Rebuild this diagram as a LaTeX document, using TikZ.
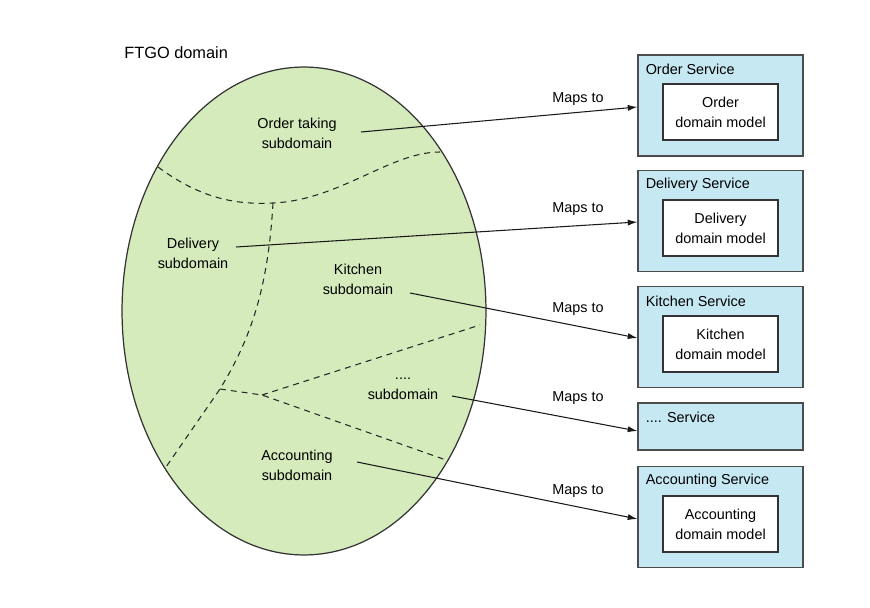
\documentclass[tikz,border=0pt]{standalone}
\usepackage{fontspec}
\setmainfont{Liberation Sans}
\usepackage{tikz}
\usetikzlibrary{calc,arrows.meta,positioning}
\definecolor{domgreen}{HTML}{D5EBBC}
\definecolor{svcblue}{HTML}{C6E8F3}

\begin{document}
\begin{tikzpicture}[x=0.02cm,y=-0.02cm,
    font=\fontsize{8.2}{11.3}\selectfont,
    sub/.style={align=center,inner sep=0pt},
    svcbox/.style={draw=black!70,fill=svcblue,line width=0.7pt,minimum width=3.3cm,minimum height=2.02cm,inner sep=0pt},
    modelbox/.style={draw=black!80,fill=white,line width=0.7pt,minimum width=2.3cm,minimum height=1.12cm,align=center,inner sep=0pt},
    svctitle/.style={anchor=west,inner sep=0pt},
    border/.style={dash pattern=on 3.4pt off 2.8pt,line width=0.6pt,black!85},
    mapsto/.style={-{Latex[length=5.5pt,width=3.5pt]},line width=0.6pt,black!90}]
  \useasboundingbox (0,0) rectangle (870,608);
  % Domain title
  \node[anchor=west,inner sep=0pt,font=\fontsize{9.3}{11}\selectfont] (ftgo) at (124,53) {FTGO domain};
  % The domain itself
  \draw[fill=domgreen,draw=black!80,line width=0.7pt] (304,311) ellipse [x radius=3.64cm, y radius=4.88cm];
  % Subdomain borders (dashed)
  \coordinate (top) at (273,203);
  \coordinate (knee) at (220,389);
  \coordinate (fork) at (262,395);
  \draw[border] (158,167) .. controls (200,198) and (235,205) .. (top) .. controls (340,200) and (390,152) .. (440,152);
  \draw[border] (top) .. controls (268,290) and (250,340) .. (knee) -- (166,467);
  \draw[border] (knee) -- (fork) -- (446,460);
  \draw[border] (fork) -- (480,325);
  % Subdomains
  \node[sub] (osub) at (297,133) {Order taking\\subdomain};
  \node[sub] (dsub) at (193,253) {Delivery\\subdomain};
  \node[sub] (ksub) at (358,279) {Kitchen\\subdomain};
  \node[sub] (xsub) at (403,389) {....\\subdomain};
  \node[sub] (asub) at (297,465) {Accounting\\subdomain};
  % Services
  \node[svcbox] (obox) at (720.5,105.5) {};
  \node[svctitle] (otitle) at ([xshift=0.16cm,yshift=-0.3cm]obox.north west) {Order Service};
  \node[modelbox] (omodel) at (720.5,112) {Order\\domain model};
  \node[svcbox] (dbox) at (720.5,221) {};
  \node[svctitle] (dtitle) at ([xshift=0.16cm,yshift=-0.3cm]dbox.north west) {Delivery Service};
  \node[modelbox] (dmodel) at (720.5,228) {Delivery\\domain model};
  \node[svcbox] (kbox) at (720.5,337) {};
  \node[svctitle] (ktitle) at ([xshift=0.16cm,yshift=-0.3cm]kbox.north west) {Kitchen Service};
  \node[modelbox] (kmodel) at (720.5,344) {Kitchen\\domain model};
  \node[svcbox,minimum height=0.94cm] (xbox) at (720.5,426.5) {};
  \node[svctitle] (xtitle) at ([xshift=0.16cm,yshift=-0.3cm]xbox.north west) {.... Service};
  \node[svcbox] (abox) at (720.5,517) {};
  \node[svctitle] (atitle) at ([xshift=0.16cm,yshift=-0.3cm]abox.north west) {Accounting Service};
  \node[modelbox] (amodel) at (720.5,524) {Accounting\\domain model};
  % Maps to arrows
  \coordinate (ofrom) at (361,132);
  \coordinate (dfrom) at (236,247);
  \coordinate (kfrom) at (410,293);
  \coordinate (xfrom) at (452,396);
  \coordinate (afrom) at (357,462);
  \draw[mapsto] (ofrom) -- ([yshift=-0.03cm]obox.west);
  \draw[mapsto] (dfrom) -- ([yshift=-0.02cm]dbox.west);
  \draw[mapsto] (kfrom) -- ([yshift=-0.02cm]kbox.west);
  \draw[mapsto] (xfrom) -- ([yshift=-0.09cm]xbox.west);
  \draw[mapsto] (afrom) -- ([yshift=-0.04cm]abox.west);
  \node (m1) at (578,99) {Maps to};
  \node (m2) at (578,209) {Maps to};
  \node (m3) at (578,309) {Maps to};
  \node (m4) at (578,398) {Maps to};
  \node (m5) at (578,491) {Maps to};
\end{tikzpicture}
\end{document}
